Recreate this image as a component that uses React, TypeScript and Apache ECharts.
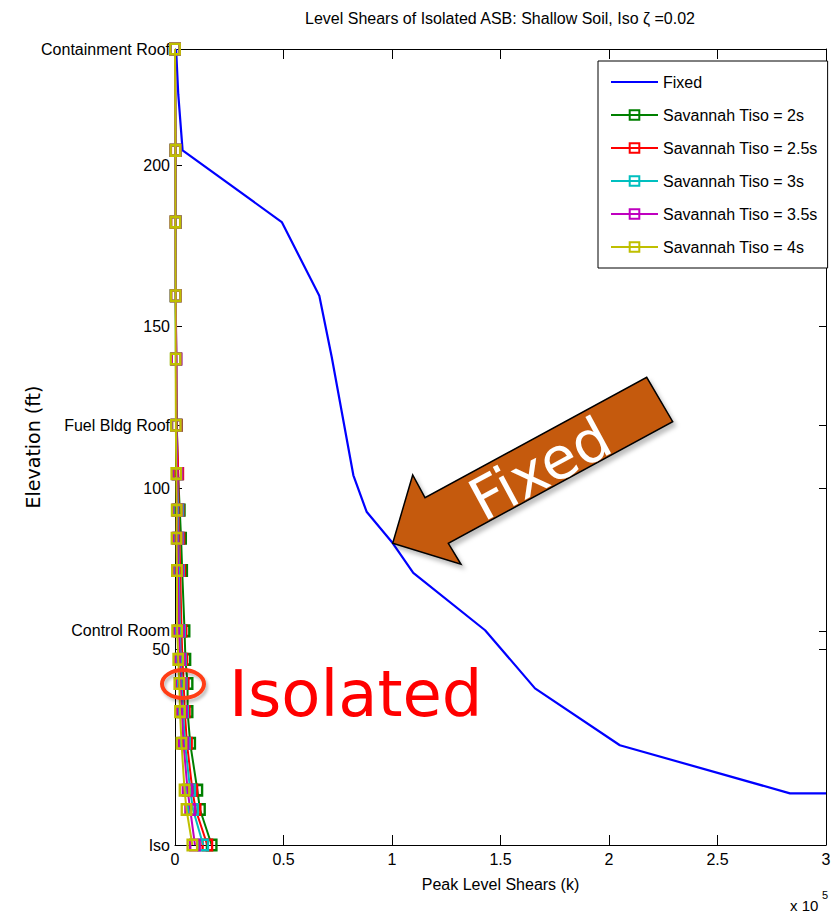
import React, { useEffect, useRef } from "react";
import * as echarts from "echarts";

// ---------- data ----------
const chartTitle = "Level Shears of Isolated ASB: Shallow Soil, Iso ζ =0.02";
const xAxisName = "Peak Level Shears (k)";
const yAxisName = "Elevation (ft)";

// y-axis tick positions (elevation, ft) and their labels
const levelValues = [-10.5, 50, 55.8, 100, 119.5, 150, 200, 236];
const levelLabels = ["Iso", "50", "Control Room", "100", "Fuel Bldg Roof", "150", "200", "Containment Roof"];

// Fixed base model
const fixedElev = [236, 222, 204.6, 182.4, 159.6, 140.7, 104, 92.7, 83, 73.8, 56, 38, 20.4, 5.5, 5.5];
const fixedShear = [500, 1500, 3500, 49200, 66500, 72200, 82200, 88300, 100300, 109800, 142900, 165900, 205000, 283400, 300000];

// Isolated model nodes
const nodeElev = [236, 204.6, 182.4, 159.6, 140, 119.5, 104.5, 93.2, 84.5, 74.5, 55.8, 47, 39.5, 30.8, 21, 6.5, 0.5, -10.5];
const tiso2 = [0, 200, 300, 300, 600, 800, 1400, 2200, 2800, 3300, 4400, 4800, 5800, 5800, 7000, 10300, 11500, 16900];
const tiso25 = [0, 300, 400, 400, 500, 800, 1500, 1700, 2000, 2400, 3000, 3400, 4000, 4500, 5500, 8000, 9500, 14900];
const tiso3 = [0, 200, 300, 300, 400, 600, 1000, 1500, 1500, 1800, 2300, 2700, 3100, 3700, 4600, 7000, 8300, 13000];
const tiso35 = [0, 200, 200, 300, 700, 500, 1100, 1100, 1200, 1400, 1800, 2300, 2600, 3200, 3900, 5800, 7000, 9200];
const tiso4 = [0, 200, 200, 300, 300, 400, 600, 800, 700, 900, 1000, 1500, 2000, 2300, 3000, 4400, 5300, 8000];

const seriesNames = [
  "Fixed",
  "Savannah Tiso = 2s",
  "Savannah Tiso = 2.5s",
  "Savannah Tiso = 3s",
  "Savannah Tiso = 3.5s",
  "Savannah Tiso = 4s",
];
const seriesColors = ["#0000FF", "#008000", "#FF0000", "#00BFBF", "#BF00BF", "#BFBF00"];
const isoSeries = [tiso2, tiso25, tiso3, tiso35, tiso4];

// ---------- styling ----------
const NARROW = "'Liberation Sans Narrow', 'Liberation Sans', Arial, sans-serif";
const AXIS_COLOR = "#000";
const FS = 16;

function labelFor(v: number): string {
  let best = 0;
  let bd = Infinity;
  levelValues.forEach((lv, i) => {
    const d = Math.abs(lv - v);
    if (d < bd) {
      bd = d;
      best = i;
    }
  });
  return bd < 0.3 ? levelLabels[best] : "";
}

function buildOption(): any {
  const fixedData = fixedShear.map((x, i) => [x, fixedElev[i]]);
  const series: any[] = [
    {
      name: seriesNames[0],
      type: "line",
      data: fixedData,
      symbol: "none",
      showSymbol: false,
      itemStyle: { color: seriesColors[0], opacity: 0 },
      lineStyle: { color: seriesColors[0], width: 2.2 },
      z: 2,
    },
  ];
  isoSeries.forEach((vals, k) => {
    const c = seriesColors[k + 1];
    series.push({
      name: seriesNames[k + 1],
      type: "line",
      data: vals.map((x, i) => [x, nodeElev[i]]),
      symbol: "rect",
      symbolSize: [9.5, 10.5],
      showSymbol: true,
      itemStyle: { color: "rgba(255,255,255,0)", borderColor: c, borderWidth: 2.5 },
      lineStyle: { color: c, width: 2 },
      z: 3 + k,
    });
  });

  return {
    animation: false,
    backgroundColor: "#fff",
    title: {
      text: chartTitle,
      left: 500,
      top: 10,
      textAlign: "center",
      padding: 0,
      textStyle: { fontFamily: NARROW, fontSize: FS, fontWeight: "normal", color: "#000" },
    },
    legend: {
      orient: "vertical",
      left: 598,
      top: 61,
      itemWidth: 47,
      itemHeight: 12,
      itemGap: 15,
      padding: [12, 10, 12, 12],
      backgroundColor: "#fff",
      borderColor: "#000",
      borderWidth: 1,
      borderRadius: 0,
      textStyle: { fontFamily: NARROW, fontSize: FS, color: "#000", lineHeight: 18 },
      data: seriesNames,
      z: 10,
    },
    grid: {
      left: 175,
      right: 13,
      top: 49,
      bottom: 71,
      containLabel: false,
      outerBoundsMode: "none",
      show: false,
    },
    xAxis: [
      {
        type: "value",
        min: 0,
        max: 300000,
        interval: 50000,
        position: "bottom",
        name: xAxisName,
        nameLocation: "middle",
        nameGap: 31,
        nameMoveOverlap: false,
        nameTextStyle: { fontFamily: NARROW, fontSize: FS, color: "#000" },
        axisLine: { show: true, onZero: false, lineStyle: { color: AXIS_COLOR, width: 1 } },
        axisTick: { show: true, inside: true, length: 10, lineStyle: { color: AXIS_COLOR } },
        axisLabel: {
          show: true,
          margin: 6,
          fontFamily: NARROW,
          fontSize: FS,
          color: "#000",
          formatter: (v: number) => String(v / 100000),
        },
        splitLine: { show: false },
      },
      {
        type: "value",
        min: 0,
        max: 300000,
        interval: 50000,
        position: "top",
        axisLine: { show: true, onZero: false, lineStyle: { color: AXIS_COLOR, width: 1 } },
        axisTick: { show: true, inside: true, length: 10, lineStyle: { color: AXIS_COLOR } },
        axisLabel: { show: false },
        splitLine: { show: false },
      },
    ],
    yAxis: [
      {
        type: "value",
        min: -10.5,
        max: 236,
        position: "left",
        name: yAxisName,
        nameLocation: "middle",
        nameGap: 133,
        nameRotate: 90,
        nameMoveOverlap: false,
        nameTextStyle: { fontFamily: "'DejaVu Sans', sans-serif", fontSize: 19, color: "#000" },
        axisLine: { show: true, onZero: false, lineStyle: { color: AXIS_COLOR, width: 1 } },
        axisTick: { show: true, inside: true, length: 7, customValues: levelValues, lineStyle: { color: AXIS_COLOR } },
        axisLabel: {
          show: true,
          margin: 5,
          fontFamily: NARROW,
          fontSize: FS,
          color: "#000",
          customValues: levelValues,
          hideOverlap: false,
          formatter: (v: number) => labelFor(v),
        },
        splitLine: { show: false },
      },
      {
        type: "value",
        min: -10.5,
        max: 236,
        position: "right",
        axisLine: { show: true, onZero: false, lineStyle: { color: AXIS_COLOR, width: 1 } },
        axisTick: { show: true, inside: true, length: 7, customValues: levelValues, lineStyle: { color: AXIS_COLOR } },
        axisLabel: { show: false },
        splitLine: { show: false },
      },
    ],
    graphic: [
      {
        type: "polygon",
        shape: {
          points: [
            [392.7, 543.3],
            [412.7, 475],
            [425, 497.7],
            [646.7, 377.3],
            [672.7, 421.7],
            [448.3, 543.3],
            [461, 564.3],
          ],
        },
        style: {
          fill: "#C55A11",
          stroke: "#000",
          lineWidth: 1.5,
          shadowBlur: 4,
          shadowOffsetX: 3,
          shadowOffsetY: 4,
          shadowColor: "rgba(0,0,0,0.25)",
        },
        z: 20,
      },
      {
        type: "text",
        x: 540,
        y: 469,
        rotation: (28.4 * Math.PI) / 180,
        style: {
          text: "Fixed",
          fill: "#fff",
          font: "58px 'DejaVu Sans', sans-serif",
          textAlign: "center",
          textVerticalAlign: "middle",
        },
        z: 21,
      },
      {
        type: "ellipse",
        shape: { cx: 183, cy: 684, rx: 21, ry: 14 },
        style: {
          fill: "none",
          stroke: "#FF3D16",
          lineWidth: 4,
          shadowBlur: 3,
          shadowOffsetX: 2,
          shadowOffsetY: 3,
          shadowColor: "rgba(0,0,0,0.25)",
        },
        z: 20,
      },
      {
        type: "text",
        x: 229,
        y: 694,
        style: {
          text: "Isolated",
          fill: "#FF0000",
          font: "64px 'DejaVu Sans', sans-serif",
          textAlign: "left",
          textVerticalAlign: "middle",
        },
        z: 20,
      },
      {
        type: "text",
        x: 790,
        y: 905,
        style: {
          text: "x 10",
          fill: "#000",
          font: `15px ${NARROW}`,
          textAlign: "left",
          textVerticalAlign: "middle",
        },
        z: 20,
      },
      {
        type: "text",
        x: 822,
        y: 895,
        style: {
          text: "5",
          fill: "#000",
          font: `11px ${NARROW}`,
          textAlign: "left",
          textVerticalAlign: "middle",
        },
        z: 20,
      },
    ],
    series,
  };
}

export default function App() {
  const ref = useRef<HTMLDivElement>(null);
  useEffect(() => {
    if (!ref.current) return;
    const chart = echarts.init(ref.current, null, { renderer: "svg" });
    chart.setOption(buildOption());
    return () => {
      chart.dispose();
    };
  }, []);
  return (
    <div
      ref={ref}
      style={{ position: "absolute", left: 0, top: 0, width: 839, height: 916, background: "#fff" }}
    />
  );
}
